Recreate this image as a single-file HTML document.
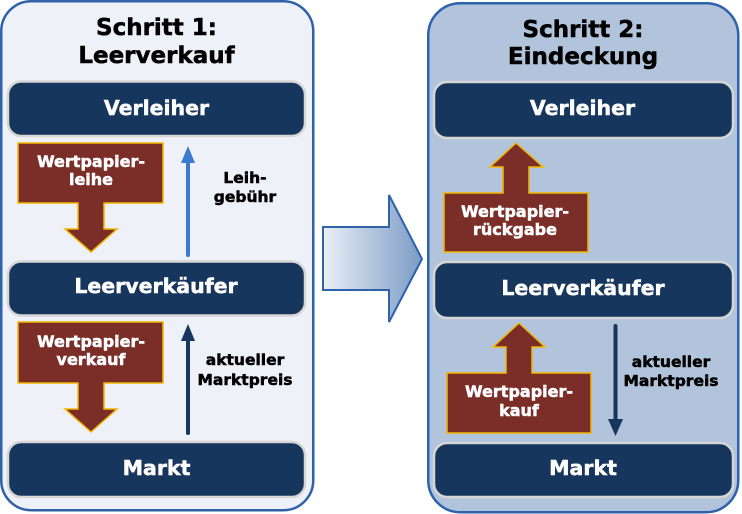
<!DOCTYPE html>
<html>
<head>
<meta charset="utf-8">
<style>
  html,body{margin:0;padding:0;background:#ffffff;}
  body{width:742px;height:514px;overflow:hidden;}
  svg{display:block;}
  text{font-family:"DejaVu Sans","Liberation Sans",sans-serif;font-weight:bold;}
  .w{fill:#fff;stroke:#fff;stroke-width:0.5;}
  .k{fill:#000;stroke:#000;stroke-width:0.5;}
</style>
</head>
<body>
<svg width="742" height="514" viewBox="0 0 742 514" xmlns="http://www.w3.org/2000/svg">
  <defs>
    <linearGradient id="bigArrow" x1="0" y1="0" x2="1" y2="0">
      <stop offset="0" stop-color="#eaeff7"/>
      <stop offset="1" stop-color="#7b9bc5"/>
    </linearGradient>
  </defs>

  <!-- Left panel -->
  <rect x="1.25" y="1.25" width="312" height="509" rx="30" ry="30" fill="#eef1f7" stroke="#2e62ab" stroke-width="2.5"/>
  <!-- Right panel -->
  <rect x="428.25" y="3.25" width="310" height="509" rx="32" ry="32" fill="#b1c4dc" stroke="#2e62ab" stroke-width="2.5"/>

  <!-- Big arrow between panels -->
  <polygon points="323,227 389,227 389,195 422,259 389,322 389,290 323,290" fill="url(#bigArrow)" stroke="#2e62ab" stroke-width="2" stroke-linejoin="miter"/>

  <!-- Titles -->
  <text class="k" x="156.5" y="35" font-size="23" text-anchor="middle">Schritt 1:</text>
  <text class="k" x="156.5" y="63" font-size="23" text-anchor="middle">Leerverkauf</text>
  <text class="k" x="583" y="37" font-size="23" text-anchor="middle">Schritt 2:</text>
  <text class="k" x="583" y="64" font-size="23" text-anchor="middle">Eindeckung</text>

  <!-- Left nodes -->
  <rect x="8" y="81.5" width="297" height="54.5" rx="13" fill="#17365d" stroke="#d6d6d6" stroke-width="2.5"/>
  <text class="w" x="156.5" y="115" font-size="20.5" text-anchor="middle">Verleiher</text>
  <rect x="8" y="261.5" width="297" height="54" rx="13" fill="#17365d" stroke="#d6d6d6" stroke-width="2.5"/>
  <text class="w" x="156" y="293" font-size="20.5" text-anchor="middle">Leerverkäufer</text>
  <rect x="8" y="442" width="297" height="55" rx="13" fill="#17365d" stroke="#d6d6d6" stroke-width="2.5"/>
  <text class="w" x="156.5" y="475" font-size="20.5" text-anchor="middle">Markt</text>

  <!-- Right nodes -->
  <rect x="434" y="82" width="299" height="56" rx="13" fill="#17365d" stroke="#d6d6d6" stroke-width="2.5"/>
  <text class="w" x="582.5" y="115" font-size="20.5" text-anchor="middle">Verleiher</text>
  <rect x="434" y="262" width="299" height="56" rx="13" fill="#17365d" stroke="#d6d6d6" stroke-width="2.5"/>
  <text class="w" x="583" y="295" font-size="20.5" text-anchor="middle">Leerverkäufer</text>
  <rect x="434" y="443" width="299" height="54" rx="13" fill="#17365d" stroke="#d6d6d6" stroke-width="2.5"/>
  <text class="w" x="583" y="475" font-size="20.5" text-anchor="middle">Markt</text>

  <!-- Left brown arrow 1 -->
  <polygon points="18,143 163,143 163,203 104,203 104,229 117,229 91,252 65,229 78,229 78,203 18,203" fill="#7b2e28" stroke="#f2b700" stroke-width="1.5"/>
  <text class="w" x="91" y="167" font-size="16" text-anchor="middle">Wertpapier-</text>
  <text class="w" x="91" y="185" font-size="16" text-anchor="middle">leihe</text>

  <!-- Left brown arrow 2 -->
  <polygon points="18,322 163,322 163,383 104,383 104,409 117,409 91,432 65,409 78,409 78,383 18,383" fill="#7b2e28" stroke="#f2b700" stroke-width="1.5"/>
  <text class="w" x="91" y="347" font-size="16" text-anchor="middle">Wertpapier-</text>
  <text class="w" x="91" y="365" font-size="16" text-anchor="middle">verkauf</text>

  <!-- Right brown arrow 1 (Rückgabe) -->
  <polygon points="516,143 543,167 529,167 529,193 588,193 588,252 444,252 444,193 503,193 503,167 490,167" fill="#7b2e28" stroke="#f2b700" stroke-width="1.5"/>
  <text class="w" x="515" y="217" font-size="16" text-anchor="middle">Wertpapier-</text>
  <text class="w" x="515" y="235" font-size="16" text-anchor="middle">rückgabe</text>

  <!-- Right brown arrow 2 (Kauf) -->
  <polygon points="519,323 545,347 532,347 532,373 591,373 591,433 447,433 447,373 506,373 506,347 493,347" fill="#7b2e28" stroke="#f2b700" stroke-width="1.5"/>
  <text class="w" x="519" y="397" font-size="16" text-anchor="middle">Wertpapier-</text>
  <text class="w" x="519" y="416" font-size="16" text-anchor="middle">kauf</text>

  <!-- Blue arrow (Leihgebühr) -->
  <line x1="188" y1="255" x2="188" y2="160" stroke="#3a7bd0" stroke-width="4" stroke-linecap="round"/>
  <polygon points="181,163 195,163 188,146" fill="#3a7bd0"/>
  <text class="k" x="245" y="183" font-size="15.5" text-anchor="middle">Leih-</text>
  <text class="k" x="245" y="202" font-size="15.5" text-anchor="middle">gebühr</text>

  <!-- Dark up arrow (left, aktueller Marktpreis) -->
  <line x1="188" y1="433" x2="188" y2="338" stroke="#17365d" stroke-width="4" stroke-linecap="round"/>
  <polygon points="181,341 195,341 188,324" fill="#17365d"/>
  <text class="k" x="245" y="365" font-size="15.5" text-anchor="middle">aktueller</text>
  <text class="k" x="245" y="385" font-size="15.5" text-anchor="middle">Marktpreis</text>

  <!-- Dark down arrow (right) -->
  <line x1="615.5" y1="326" x2="615.5" y2="421" stroke="#17365d" stroke-width="4" stroke-linecap="round"/>
  <polygon points="608,419 623,419 615.5,436" fill="#17365d"/>
  <text class="k" x="671" y="367" font-size="15.5" text-anchor="middle">aktueller</text>
  <text class="k" x="671" y="386" font-size="15.5" text-anchor="middle">Marktpreis</text>
</svg>
</body>
</html>
